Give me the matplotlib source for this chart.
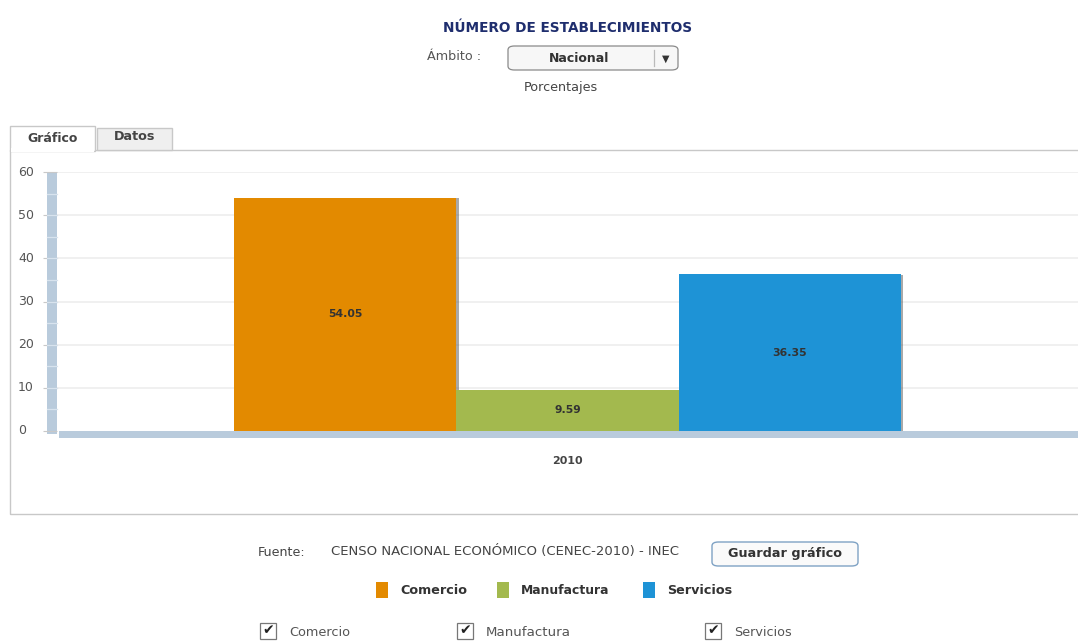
import matplotlib
matplotlib.use("Agg")
import matplotlib.pyplot as plt
from matplotlib.patches import Rectangle, FancyBboxPatch
import matplotlib.patheffects as pe

# --- data -------------------------------------------------------------
categories = ["2010"]
series_names = ["Comercio", "Manufactura", "Servicios"]
series_values = [54.05, 9.59, 36.35]
series_colors = ["#E38A00", "#A3B94E", "#1E93D6"]
y_ticks = [0, 10, 20, 30, 40, 50, 60]

title = "NÚMERO DE ESTABLECIMIENTOS"
source_label = "Fuente:"
source_text = "CENSO NACIONAL ECONÓMICO (CENEC-2010) - INEC"

W, H = 1078, 641
fig = plt.figure(figsize=(W / 100, H / 100), dpi=100)
fig.patch.set_facecolor("white")
plt.rcParams["font.family"] = ["DejaVu Sans"]


def fx(px):
    return px / W


def fy(py):
    return 1 - py / H


def ftext(px, py, s, **kw):
    kw.setdefault("ha", "left")
    kw.setdefault("va", "center")
    fig.text(fx(px), fy(py), s, **kw)


def frect(x0, y0, x1, y1, **kw):
    r = Rectangle((fx(x0), fy(y1)), fx(x1) - fx(x0), fy(y0) - fy(y1),
                  transform=fig.transFigure, **kw)
    fig.patches.append(r)
    return r


def fround(x0, y0, x1, y1, **kw):
    r = FancyBboxPatch((fx(x0), fy(y1)), fx(x1) - fx(x0), fy(y0) - fy(y1),
                       boxstyle="round,pad=0,rounding_size=0.006",
                       transform=fig.transFigure, **kw)
    fig.patches.append(r)
    return r


# --- header -------------------------------------------------------------
ftext(568, 28, title, ha="center", fontsize=9.8, fontweight="bold", color="#1F2E6E")
ftext(427, 57, "Ámbito :", fontsize=9.2, color="#555555")
fround(508, 46, 678, 70, facecolor="#F7F7F7", edgecolor="#8A8A8A", linewidth=0.9)
ftext(579, 58, "Nacional", ha="center", fontsize=9.0, fontweight="bold", color="#333333")
fig.add_artist(plt.Line2D([fx(654), fx(654)], [fy(50), fy(66)], color="#BBBBBB", lw=0.9))
ftext(666, 59, "▼", ha="center", fontsize=7, color="#333333")
ftext(561, 87, "Porcentajes", ha="center", fontsize=9.2, color="#444444")

# --- tab panel ------------------------------------------------------------
frect(10, 150, 1090, 514, facecolor="none", edgecolor="#C8C8C8", linewidth=1.0)
frect(10, 126, 95, 151, facecolor="white", edgecolor="#C8C8C8", linewidth=1.0)
frect(97, 128, 172, 150, facecolor="#EFEFEF", edgecolor="#C8C8C8", linewidth=1.0)
frect(11, 148, 94, 152, facecolor="white", edgecolor="none")
ftext(53, 139, "Gráfico", ha="center", fontsize=9.0, fontweight="bold", color="#444444")
ftext(135, 137, "Datos", ha="center", fontsize=9.2, fontweight="bold", color="#444444")

# --- chart axes -------------------------------------------------------------
ax_left, ax_right, ax_top, ax_bottom = 57, 1078, 172, 431
ax = fig.add_axes([fx(ax_left), fy(ax_bottom), fx(ax_right) - fx(ax_left),
                   fy(ax_top) - fy(ax_bottom)])
ax.set_facecolor("none")
ax.set_xlim(-0.5, 0.5)
ax.set_ylim(0, 60)
for s in ax.spines.values():
    s.set_visible(False)
ax.set_xticks([])
ax.set_yticks(y_ticks)
ax.set_yticklabels([])
ax.tick_params(axis="y", length=10, width=0.8, color="#C8C8C8")
ytrans = ax.get_yaxis_transform()
for t in y_ticks:
    ax.text(-0.0382, t, str(t), transform=ytrans, ha="left", va="center",
            fontsize=9.0, color="#555555", clip_on=False)
for t in y_ticks[1:]:
    ax.axhline(t, color="#EEEEEE", lw=1.2, zorder=0)

# vertical axis bar with faint segment lines
ax.add_patch(Rectangle((-0.0098, -0.75), 0.0098, 60.75, transform=ytrans,
                       facecolor="#B9CBDC", edgecolor="none", clip_on=False, zorder=1))
for v in range(5, 60, 5):
    ax.plot([-0.0098, 0.0], [v, v], transform=ytrans,
            color="#D8E3EE", lw=0.9, clip_on=False, zorder=2)
# horizontal base bar
ax.add_patch(Rectangle((0.002, -1.6), 1.0, 1.6, transform=ytrans,
                       facecolor="#B9CBDC", edgecolor="none", clip_on=False, zorder=1))

bar_w = 0.2175
offsets = [-bar_w, 0.0, bar_w]
shadow = [pe.SimplePatchShadow(offset=(1.5, -0.5), shadow_rgbFace="#555555", alpha=0.5), pe.Normal()]
for name, val, col, off in zip(series_names, series_values, series_colors, offsets):
    bars = ax.bar([off], [val], width=bar_w, color=col, zorder=3, linewidth=0)
    for b in bars:
        b.set_path_effects(shadow)
    ax.text(off, val / 2, f"{val:.2f}", ha="center", va="center",
            fontsize=7.8, fontweight="bold", color="#333333", zorder=4)
for i, cat in enumerate(categories):
    ax.text(i, -7, cat, ha="center", va="center", fontsize=7.9,
            fontweight="bold", color="#444444")

# --- footer ------------------------------------------------------------------
ftext(258, 552, source_label, fontsize=9.1, color="#444444")
ftext(331, 552, source_text, fontsize=9.5, color="#444444")
fround(712, 542, 858, 566, facecolor="#FAFAFA", edgecolor="#7FA2C4", linewidth=1.0)
ftext(785, 554, "Guardar gráfico", ha="center", fontsize=9.2, fontweight="bold", color="#333333")

legend_x = [376, 497, 643]
legend_fs = [9.2, 8.9, 9.2]
for name, col, x0, fs in zip(series_names, series_colors, legend_x, legend_fs):
    frect(x0, 582, x0 + 12, 598, facecolor=col, edgecolor="none")
    ftext(x0 + 24, 590, name, fontsize=fs, fontweight="bold", color="#333333")

check_x = [260, 457, 705]
check_fs = [9.3, 9.6, 9.2]
for name, x0, fs in zip(series_names, check_x, check_fs):
    frect(x0, 623, x0 + 16, 639, facecolor="white", edgecolor="#777777", linewidth=0.9)
    ftext(x0 + 8, 630, "✔", ha="center", fontsize=10, color="#222222")
    ftext(x0 + 29, 632, name, fontsize=fs, color="#555555")

fig.savefig("out.png", dpi=100)
